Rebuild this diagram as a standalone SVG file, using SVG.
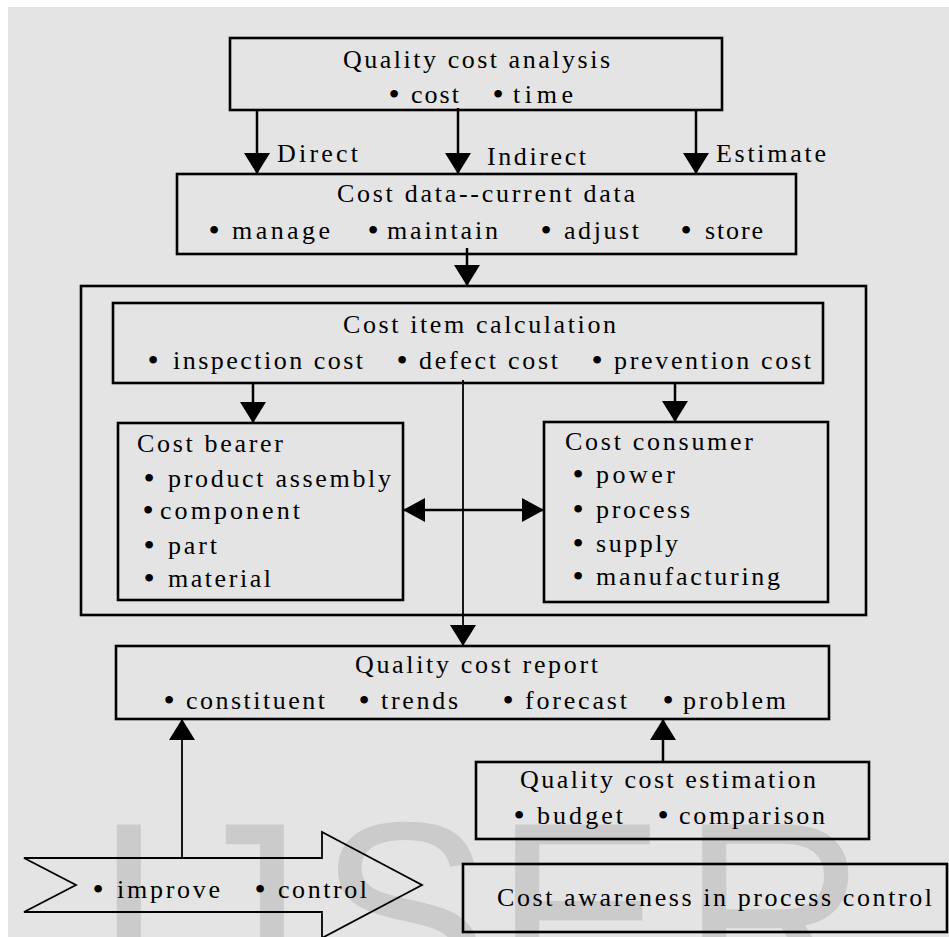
<svg xmlns="http://www.w3.org/2000/svg" width="949" height="937" viewBox="0 0 949 937">
  <defs>
    <style>
      .t { font-family: "Liberation Serif", "Times New Roman", serif; font-size: 26px; fill: #000; }
      .b { font-family: "Liberation Serif", "Times New Roman", serif; font-size: 32px; fill: #000; text-anchor: middle; }
      .box { fill: none; stroke: #000; stroke-width: 2.6; }
      .ln { fill: none; stroke: #000; stroke-width: 2.5; }
      .thin { fill: none; stroke: #000; stroke-width: 1.8; }
      .wm { font-family: "Liberation Sans", Arial, sans-serif; font-size: 258px; fill: #cbcbcb; }
    </style>
    <marker id="ah" markerUnits="userSpaceOnUse" markerWidth="22" markerHeight="28" refX="21" refY="13" orient="auto">
      <path d="M0,0 L21,13 L0,26 z" fill="#000"/>
    </marker>
    <marker id="ah2" markerUnits="userSpaceOnUse" markerWidth="24" markerHeight="26" refX="22" refY="12" orient="auto-start-reverse">
      <path d="M0,0 L22,12 L0,24 z" fill="#000"/>
    </marker>
  </defs>

  <!-- page background -->
  <rect x="0" y="0" width="949" height="937" fill="#fff"/>
  <rect x="8" y="7" width="941" height="930" fill="#e4e4e4"/>

  <!-- watermark -->
  <text class="wm" x="93 174 318 494 681" y="1002">IJSER</text>

  <!-- outer frame around the calculation block -->
  <rect id="calc-frame" class="box" x="81" y="286" width="785" height="329"/>

  <g id="analysis">
    <rect class="box" x="230" y="38" width="492" height="72"/>
    <text class="t" x="343" y="68" textLength="267" lengthAdjust="spacing">Quality cost analysis</text>
    <text class="b" x="394" y="105">•</text>
    <text class="t" x="411" y="103" textLength="48" lengthAdjust="spacing">cost</text>
    <text class="b" x="498" y="105">•</text>
    <text class="t" x="513" y="103" textLength="60" lengthAdjust="spacing">time</text>
  </g>

  <g id="cost-data">
    <rect class="box" x="177" y="174" width="619" height="80"/>
    <text class="t" x="337" y="202" textLength="298" lengthAdjust="spacing">Cost data--current data</text>
    <text class="b" x="214" y="241">•</text>
    <text class="t" x="232" y="239" textLength="98" lengthAdjust="spacing">manage</text>
    <text class="b" x="373" y="241">•</text>
    <text class="t" x="387" y="239" textLength="111" lengthAdjust="spacing">maintain</text>
    <text class="b" x="546" y="241">•</text>
    <text class="t" x="564" y="239" textLength="75" lengthAdjust="spacing">adjust</text>
    <text class="b" x="686" y="241">•</text>
    <text class="t" x="705" y="239" textLength="58" lengthAdjust="spacing">store</text>
  </g>

  <g id="cost-item">
    <rect class="box" x="113" y="303" width="710" height="80"/>
    <text class="t" x="343" y="333" textLength="273" lengthAdjust="spacing">Cost item calculation</text>
    <text class="b" x="153" y="371">•</text>
    <text class="t" x="173" y="369" textLength="190" lengthAdjust="spacing">inspection cost</text>
    <text class="b" x="402" y="371">•</text>
    <text class="t" x="419" y="369" textLength="139" lengthAdjust="spacing">defect cost</text>
    <text class="b" x="597" y="371">•</text>
    <text class="t" x="614" y="369" textLength="197" lengthAdjust="spacing">prevention cost</text>
  </g>

  <g id="cost-bearer">
    <rect class="box" x="118" y="423" width="285" height="177"/>
    <text class="t" x="137" y="452" textLength="146" lengthAdjust="spacing">Cost bearer</text>
    <text class="b" x="149" y="489">•</text>
    <text class="t" x="168" y="487" textLength="223" lengthAdjust="spacing">product assembly</text>
    <text class="b" x="148" y="521">•</text>
    <text class="t" x="160" y="519" textLength="140" lengthAdjust="spacing">component</text>
    <text class="b" x="149" y="556">•</text>
    <text class="t" x="168" y="554" textLength="49" lengthAdjust="spacing">part</text>
    <text class="b" x="149" y="589">•</text>
    <text class="t" x="168" y="587" textLength="103" lengthAdjust="spacing">material</text>
  </g>

  <g id="cost-consumer">
    <rect class="box" x="544" y="422" width="284" height="180"/>
    <text class="t" x="565" y="450" textLength="188" lengthAdjust="spacing">Cost consumer</text>
    <text class="b" x="578" y="485">•</text>
    <text class="t" x="596" y="483" textLength="79" lengthAdjust="spacing">power</text>
    <text class="b" x="578" y="520">•</text>
    <text class="t" x="596" y="518" textLength="94" lengthAdjust="spacing">process</text>
    <text class="b" x="578" y="554">•</text>
    <text class="t" x="596" y="552" textLength="82" lengthAdjust="spacing">supply</text>
    <text class="b" x="578" y="587">•</text>
    <text class="t" x="596" y="585" textLength="184" lengthAdjust="spacing">manufacturing</text>
  </g>

  <g id="report">
    <rect class="box" x="116" y="646" width="713" height="73"/>
    <text class="t" x="355" y="673" textLength="243" lengthAdjust="spacing">Quality cost report</text>
    <text class="b" x="169" y="711">•</text>
    <text class="t" x="186" y="709" textLength="139" lengthAdjust="spacing">constituent</text>
    <text class="b" x="364" y="711">•</text>
    <text class="t" x="381" y="709" textLength="77" lengthAdjust="spacing">trends</text>
    <text class="b" x="508" y="711">•</text>
    <text class="t" x="525" y="709" textLength="102" lengthAdjust="spacing">forecast</text>
    <text class="b" x="668" y="711">•</text>
    <text class="t" x="683" y="709" textLength="103" lengthAdjust="spacing">problem</text>
  </g>

  <g id="estimation">
    <rect class="box" x="476" y="762" width="393" height="77"/>
    <text class="t" x="520" y="788" textLength="296" lengthAdjust="spacing">Quality cost estimation</text>
    <text class="b" x="519" y="826">•</text>
    <text class="t" x="537" y="824" textLength="86" lengthAdjust="spacing">budget</text>
    <text class="b" x="663" y="826">•</text>
    <text class="t" x="679" y="824" textLength="146" lengthAdjust="spacing">comparison</text>
  </g>

  <g id="improve">
    <path class="thin" d="M24,858 L76,885 L24,912 L322,912 L322,938 L422,885 L322,832 L322,858 Z"/>
    <text class="b" x="98" y="900">•</text>
    <text class="t" x="117" y="898" textLength="103" lengthAdjust="spacing">improve</text>
    <text class="b" x="260" y="900">•</text>
    <text class="t" x="278" y="898" textLength="89" lengthAdjust="spacing">control</text>
  </g>

  <g id="awareness">
    <rect class="box" x="463" y="864" width="484" height="68"/>
    <text class="t" x="497" y="906" textLength="435" lengthAdjust="spacing">Cost awareness in process control</text>
  </g>

  <!-- connectors -->
  <g id="connectors">
    <line class="ln" x1="257" y1="110" x2="257" y2="174" marker-end="url(#ah)"/>
    <line class="ln" x1="458" y1="108" x2="458" y2="174" marker-end="url(#ah)"/>
    <line class="ln" x1="696" y1="110" x2="696" y2="174" marker-end="url(#ah)"/>
    <line class="ln" x1="467" y1="248" x2="467" y2="286" marker-end="url(#ah)"/>
    <line class="ln" x1="253" y1="383" x2="253" y2="423" marker-end="url(#ah)"/>
    <line class="ln" x1="675" y1="383" x2="675" y2="422" marker-end="url(#ah)"/>
    <line class="thin" x1="463" y1="380" x2="463" y2="646" marker-end="url(#ah)"/>
    <line class="ln" x1="403" y1="510" x2="544" y2="510" marker-start="url(#ah2)" marker-end="url(#ah2)"/>
    <line class="thin" x1="182" y1="858" x2="182" y2="719" marker-end="url(#ah)"/>
    <line class="ln" x1="663" y1="762" x2="663" y2="719" marker-end="url(#ah)"/>
    <text class="t" x="277" y="162" textLength="81" lengthAdjust="spacing">Direct</text>
    <text class="t" x="487" y="165" textLength="99" lengthAdjust="spacing">Indirect</text>
    <text class="t" x="716" y="162" textLength="110" lengthAdjust="spacing">Estimate</text>
  </g>
</svg>
